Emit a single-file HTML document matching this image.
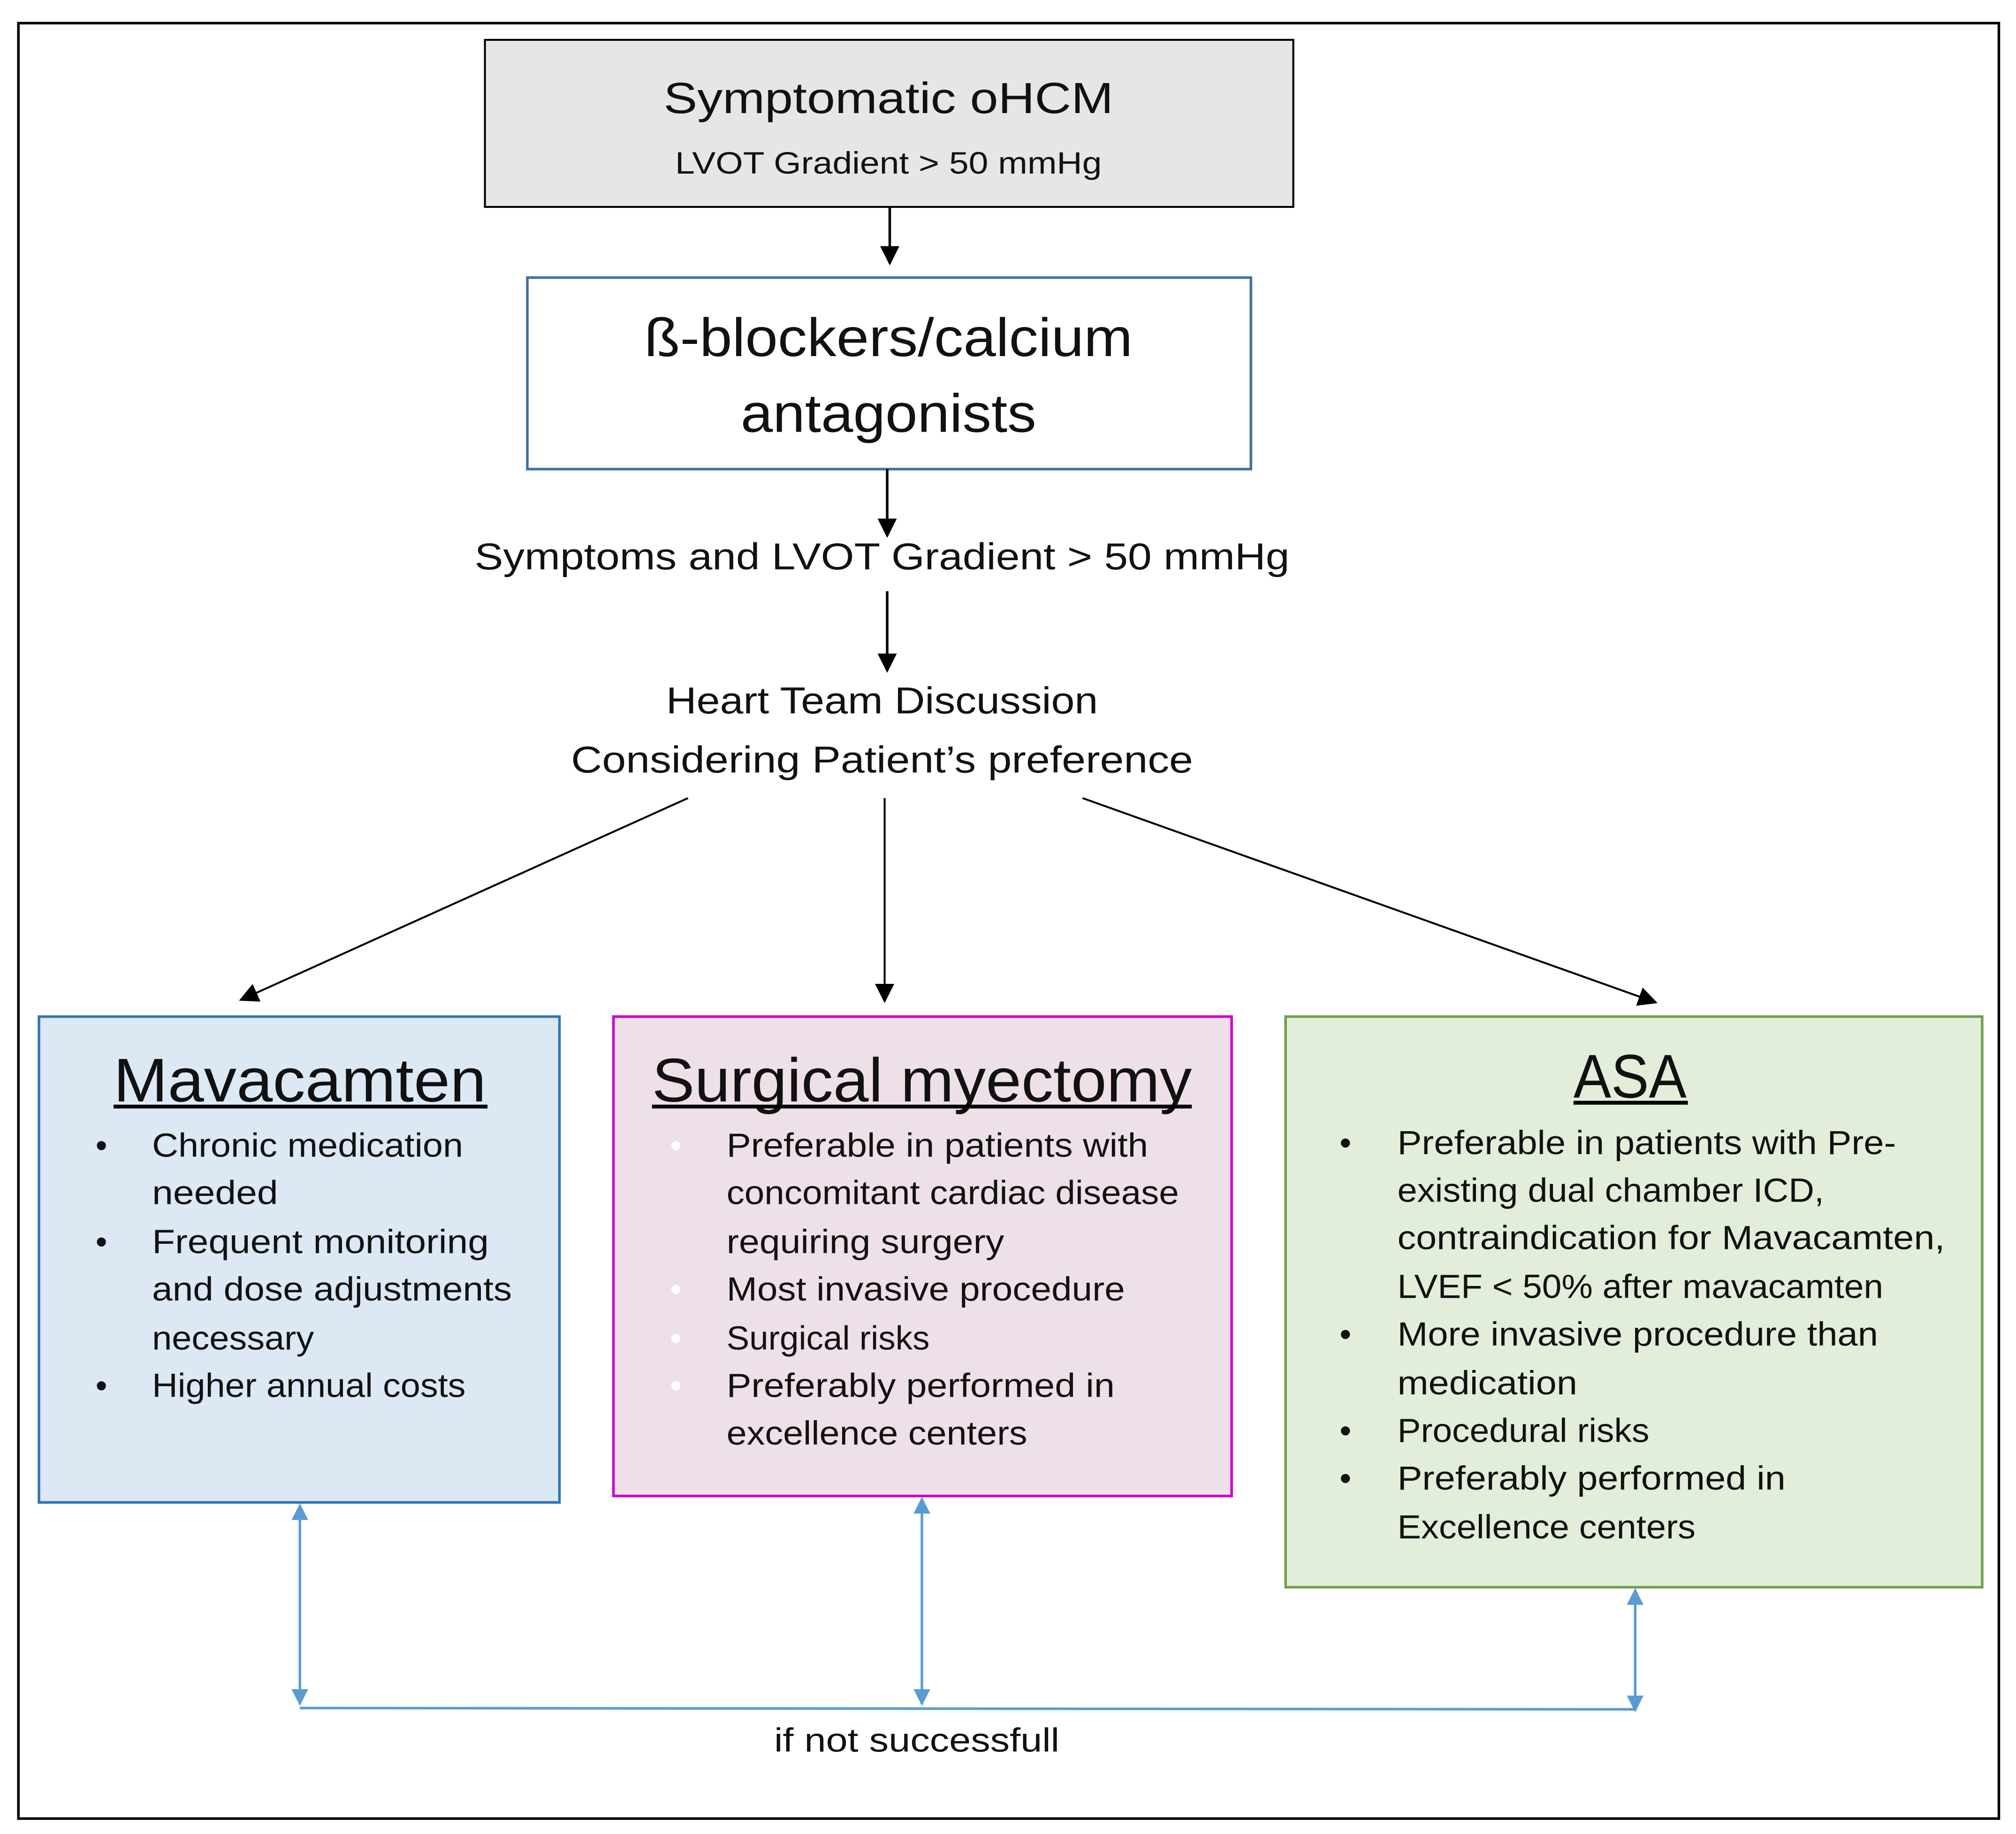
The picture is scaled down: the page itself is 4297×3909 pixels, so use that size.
<!DOCTYPE html>
<html><head><meta charset="utf-8"><style>
html,body{margin:0;padding:0;background:#fff;}
svg{display:block;}
text{font-family:"Liberation Sans",Arial,sans-serif;fill:#111;}
</style></head><body>
<svg width="4297" height="3909" viewBox="0 0 1568 1427" xmlns="http://www.w3.org/2000/svg">
<defs>
<marker id="ab" viewBox="0 0 10 10" refX="9" refY="5" markerUnits="userSpaceOnUse" markerWidth="18" markerHeight="15" orient="auto-start-reverse"><path d="M0,0 L10,5 L0,10 z" fill="#000"/></marker>
<marker id="bl" viewBox="0 0 10 10" refX="9" refY="5" markerUnits="userSpaceOnUse" markerWidth="16" markerHeight="13" orient="auto-start-reverse"><path d="M0,0 L10,5 L0,10 z" fill="#5b9bd5"/></marker>
</defs>
<rect x="0" y="0" width="1568" height="1427" fill="#fff"/>
<rect x="14" y="18" width="1541" height="1397" fill="none" stroke="#000" stroke-width="2"/>

<rect x="377" y="31" width="629" height="130" fill="#e6e6e6" stroke="#000" stroke-width="1.5"/>
<text x="691" y="88" font-size="34" text-anchor="middle" textLength="350" lengthAdjust="spacingAndGlyphs">Symptomatic oHCM</text>
<text x="691" y="135" font-size="24" text-anchor="middle" textLength="332" lengthAdjust="spacingAndGlyphs">LVOT Gradient &gt; 50 mmHg</text>
<line x1="692" y1="161" x2="692" y2="205" stroke="#000" stroke-width="2" marker-end="url(#ab)"/>

<rect x="410" y="216" width="563" height="149" fill="#fff" stroke="#41719c" stroke-width="2"/>
<text x="691" y="277" font-size="42" text-anchor="middle" textLength="380" lengthAdjust="spacingAndGlyphs">ß-blockers/calcium</text>
<text x="691" y="336" font-size="42" text-anchor="middle" textLength="230" lengthAdjust="spacingAndGlyphs">antagonists</text>
<line x1="690" y1="365" x2="690" y2="417" stroke="#000" stroke-width="2" marker-end="url(#ab)"/>
<text x="686" y="443" font-size="29" text-anchor="middle" textLength="634" lengthAdjust="spacingAndGlyphs">Symptoms and LVOT Gradient &gt; 50 mmHg</text>
<line x1="690" y1="460" x2="690" y2="522" stroke="#000" stroke-width="2" marker-end="url(#ab)"/>
<text x="686" y="555" font-size="29" text-anchor="middle" textLength="336" lengthAdjust="spacingAndGlyphs">Heart Team Discussion</text>
<text x="686" y="601" font-size="29" text-anchor="middle" textLength="484" lengthAdjust="spacingAndGlyphs">Considering Patient’s preference</text>
<line x1="535" y1="621" x2="187" y2="778" stroke="#000" stroke-width="1.5" marker-end="url(#ab)"/>
<line x1="688" y1="621" x2="688" y2="779" stroke="#000" stroke-width="1.5" marker-end="url(#ab)"/>
<line x1="842" y1="621" x2="1288" y2="780" stroke="#000" stroke-width="1.5" marker-end="url(#ab)"/>

<rect x="30" y="791" width="405" height="378" fill="#dde8f5" stroke="#2e75b6" stroke-width="2"/>
<text x="233" y="857" font-size="48" text-anchor="middle" textLength="290" lengthAdjust="spacingAndGlyphs">Mavacamten</text>
<line x1="88" y1="861" x2="379" y2="861" stroke="#000" stroke-width="3"/>
<g font-size="26">
<text x="74" y="900">•</text><text x="118" y="900" textLength="242" lengthAdjust="spacingAndGlyphs">Chronic medication</text>
<text x="118" y="937" textLength="98" lengthAdjust="spacingAndGlyphs">needed</text>
<text x="74" y="975">•</text><text x="118" y="975" textLength="262" lengthAdjust="spacingAndGlyphs">Frequent monitoring</text>
<text x="118" y="1012" textLength="280" lengthAdjust="spacingAndGlyphs">and dose adjustments</text>
<text x="118" y="1050" textLength="126" lengthAdjust="spacingAndGlyphs">necessary</text>
<text x="74" y="1087">•</text><text x="118" y="1087" textLength="244" lengthAdjust="spacingAndGlyphs">Higher annual costs</text>
</g>

<rect x="477" y="791" width="481" height="373" fill="#eee0e8" stroke="#cc00cc" stroke-width="2"/>
<text x="717" y="857" font-size="48" text-anchor="middle" textLength="420" lengthAdjust="spacingAndGlyphs">Surgical myectomy</text>
<line x1="507" y1="861" x2="927" y2="861" stroke="#000" stroke-width="3"/>
<g font-size="26">
<text x="521" y="900" style="fill:#fff">•</text><text x="565" y="900" textLength="328" lengthAdjust="spacingAndGlyphs">Preferable in patients with</text>
<text x="565" y="937" textLength="352" lengthAdjust="spacingAndGlyphs">concomitant cardiac disease</text>
<text x="565" y="975" textLength="216" lengthAdjust="spacingAndGlyphs">requiring surgery</text>
<text x="521" y="1012" style="fill:#fff">•</text><text x="565" y="1012" textLength="310" lengthAdjust="spacingAndGlyphs">Most invasive procedure</text>
<text x="521" y="1050" style="fill:#fff">•</text><text x="565" y="1050" textLength="158" lengthAdjust="spacingAndGlyphs">Surgical risks</text>
<text x="521" y="1087" style="fill:#fff">•</text><text x="565" y="1087" textLength="302" lengthAdjust="spacingAndGlyphs">Preferably performed in</text>
<text x="565" y="1124" textLength="234" lengthAdjust="spacingAndGlyphs">excellence centers</text>
</g>

<rect x="1000" y="791" width="542" height="444" fill="#e2eed9" stroke="#6fa04c" stroke-width="2"/>
<text x="1268" y="854" font-size="48" text-anchor="middle" textLength="88" lengthAdjust="spacingAndGlyphs">ASA</text>
<line x1="1224" y1="858" x2="1313" y2="858" stroke="#000" stroke-width="3"/>
<g font-size="26">
<text x="1042" y="898">•</text><text x="1087" y="898" textLength="388" lengthAdjust="spacingAndGlyphs">Preferable in patients with Pre-</text>
<text x="1087" y="935" textLength="332" lengthAdjust="spacingAndGlyphs">existing dual chamber ICD,</text>
<text x="1087" y="972" textLength="426" lengthAdjust="spacingAndGlyphs">contraindication for Mavacamten,</text>
<text x="1087" y="1010" textLength="378" lengthAdjust="spacingAndGlyphs">LVEF &lt; 50% after mavacamten</text>
<text x="1042" y="1047">•</text><text x="1087" y="1047" textLength="374" lengthAdjust="spacingAndGlyphs">More invasive procedure than</text>
<text x="1087" y="1085" textLength="140" lengthAdjust="spacingAndGlyphs">medication</text>
<text x="1042" y="1122">•</text><text x="1087" y="1122" textLength="196" lengthAdjust="spacingAndGlyphs">Procedural risks</text>
<text x="1042" y="1159">•</text><text x="1087" y="1159" textLength="302" lengthAdjust="spacingAndGlyphs">Preferably performed in</text>
<text x="1087" y="1197" textLength="232" lengthAdjust="spacingAndGlyphs">Excellence centers</text>
</g>

<g stroke="#5b9bd5" stroke-width="2">
<line x1="233" y1="1171" x2="233" y2="1326" marker-start="url(#bl)" marker-end="url(#bl)"/>
<line x1="717" y1="1166" x2="717" y2="1326" marker-start="url(#bl)" marker-end="url(#bl)"/>
<line x1="1272" y1="1237" x2="1272" y2="1331" marker-start="url(#bl)" marker-end="url(#bl)"/>
<line x1="233" y1="1329" x2="1272" y2="1330"/>
</g>
<text x="713" y="1363" font-size="26" text-anchor="middle" textLength="222" lengthAdjust="spacingAndGlyphs">if not successfull</text>
</svg>
</body></html>
